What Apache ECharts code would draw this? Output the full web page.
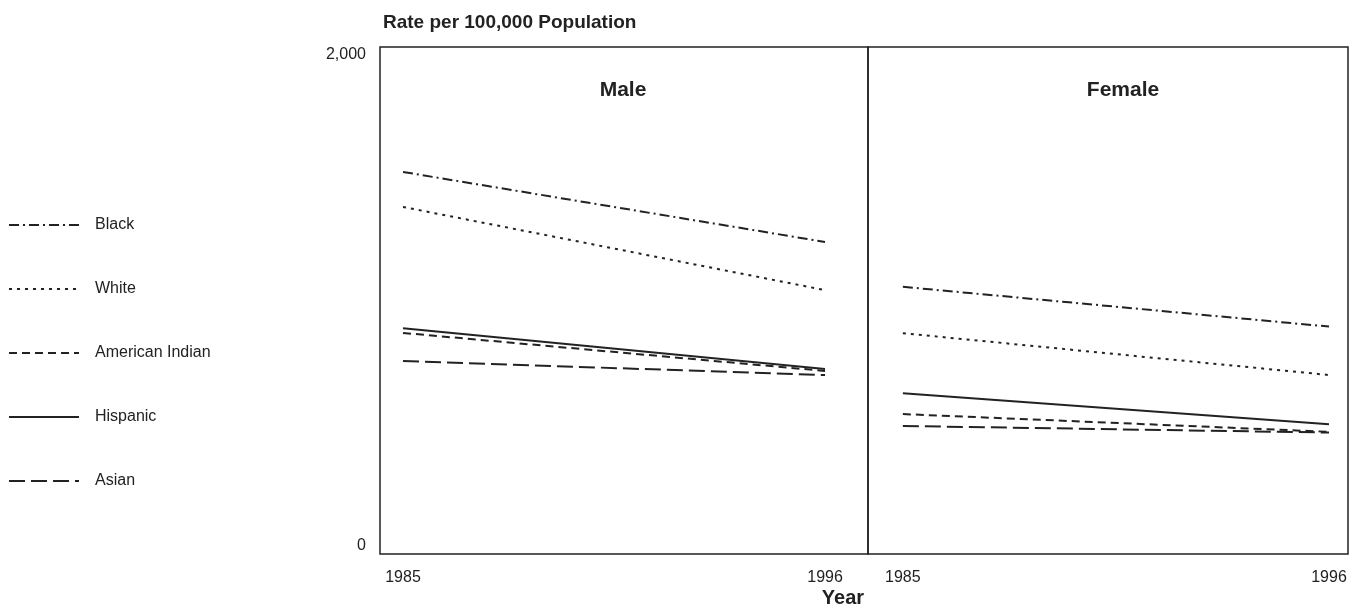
<!DOCTYPE html>
<html><head><meta charset="utf-8">
<script src="https://cdn.jsdelivr.net/npm/echarts@6/dist/echarts.min.js"></script>
<style>html,body{margin:0;padding:0;background:#fff}#c{width:1358px;height:610px}</style>
</head><body><div id="c"></div>
<script>
const years = [1985, 1996];
const groups = ['Black', 'White', 'American Indian', 'Hispanic', 'Asian'];
const maleBlack = [1507, 1231];
const maleWhite = [1369, 1041];
const maleAmIndian = [872, 722];
const maleHispanic = [891, 730];
const maleAsian = [761, 706];
const femaleBlack = [1054, 897];
const femaleWhite = [871, 706];
const femaleAmIndian = [552, 482];
const femaleHispanic = [634, 512];
const femaleAsian = [505, 479];
const yTicks = [0, 2000];

const male = [maleBlack, maleWhite, maleAmIndian, maleHispanic, maleAsian];
const female = [femaleBlack, femaleWhite, femaleAmIndian, femaleHispanic, femaleAsian];
const dashes = [[10, 4, 2, 4], [3, 5], [8, 5], 'solid', [16, 6]];
const ink = '#222';
const font = 'Liberation Sans, Arial, Helvetica, sans-serif';

function mk(arr, gi) {
  return arr.map((vals, i) => ({
    name: groups[i], type: 'line', xAxisIndex: gi, yAxisIndex: gi,
    data: years.map((y, k) => [y, vals[k]]),
    symbol: 'none', showSymbol: false, silent: true,
    lineStyle: { color: ink, width: 2, type: dashes[i] },
    itemStyle: { color: ink }
  }));
}

const chart = echarts.init(document.getElementById('c'), null, { renderer: 'canvas' });
const xCommon = {
  type: 'value', axisLine: { show: false }, axisTick: { show: false }, splitLine: { show: false },
  axisLabel: { customValues: years, color: ink, fontSize: 16, fontFamily: font, margin: 16, formatter: v => String(v) }
};
chart.setOption({
  animation: false,
  backgroundColor: '#fff',
  textStyle: { fontFamily: font },
  title: [
    { text: 'Rate per 100,000 Population', left: 378, top: 8, textStyle: { fontSize: 19, fontWeight: 'bold', color: ink, fontFamily: font } },
    { text: 'Male', left: 618, top: 75, textAlign: 'center', textStyle: { fontSize: 21, fontWeight: 'bold', color: ink, fontFamily: font } },
    { text: 'Female', left: 1118, top: 75, textAlign: 'center', textStyle: { fontSize: 21, fontWeight: 'bold', color: ink, fontFamily: font } },
    { text: 'Year', left: 838, top: 583, textAlign: 'center', textStyle: { fontSize: 20, fontWeight: 'bold', color: ink, fontFamily: font } }
  ],
  legend: {
    orient: 'vertical', left: 3, top: 212, itemWidth: 70, itemHeight: 20, itemGap: 48,
    data: groups, selectedMode: false,
    itemStyle: { opacity: 0, borderWidth: 0 },
    textStyle: { fontSize: 16, color: ink, fontFamily: font, padding: [0, 0, 0, 11] }
  },
  grid: [
    { left: 380, top: 47, width: 488, height: 507, show: true, borderColor: ink, borderWidth: 1.5, backgroundColor: 'transparent' },
    { left: 868, top: 47, width: 480, height: 507, show: true, borderColor: ink, borderWidth: 1.5, backgroundColor: 'transparent' }
  ],
  xAxis: [
    Object.assign({}, xCommon, { gridIndex: 0, min: 1984.4, max: 1997.12 }),
    Object.assign({}, xCommon, { gridIndex: 1, min: 1984.1, max: 1996.49 })
  ],
  yAxis: [
    { type: 'value', gridIndex: 0, min: yTicks[0], max: yTicks[1], interval: 2000,
      axisLine: { show: false }, axisTick: { show: false }, splitLine: { show: false },
      axisLabel: { color: ink, fontSize: 16, fontFamily: font, margin: 14,
        verticalAlignMinLabel: 'bottom', verticalAlignMaxLabel: 'top',
        formatter: v => v.toLocaleString('en-US') } },
    { type: 'value', gridIndex: 1, min: yTicks[0], max: yTicks[1], interval: 2000, show: false }
  ],
  series: mk(male, 0).concat(mk(female, 1))
});
</script></body></html>
